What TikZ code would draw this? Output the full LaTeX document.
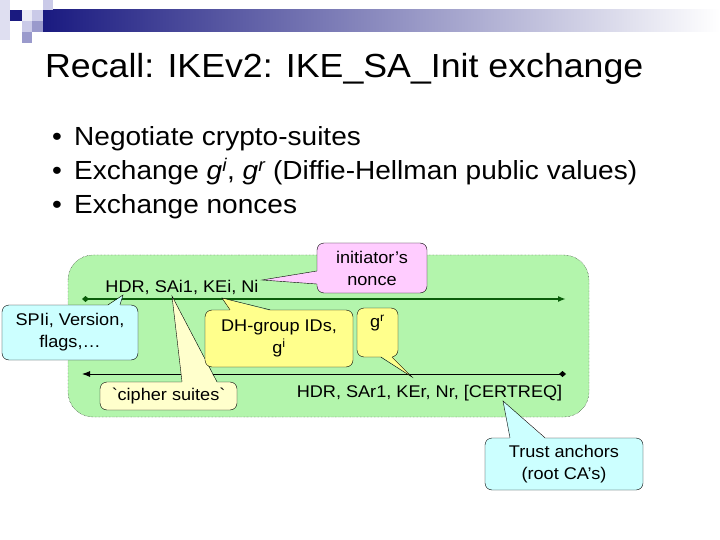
\documentclass[tikz,border=0pt]{standalone}
\usepackage{fontspec}
\setmainfont[FakeStretch=1.07]{Liberation Sans}
\usepackage{tikz}
\usetikzlibrary{arrows.meta}
\definecolor{slidenavy}{HTML}{1A1A80}
\definecolor{slidelilac}{HTML}{CACAE8}
\definecolor{slidemauve}{HTML}{9A9ACC}
\definecolor{saboxgreen}{HTML}{B3F5AC}
\definecolor{msggreen}{HTML}{0A5C0A}
\definecolor{tipcyan}{HTML}{CCFFFF}
\definecolor{tipcream}{HTML}{FFFFCC}
\definecolor{tipyellow}{HTML}{FFFF8C}
\definecolor{tippink}{HTML}{FFCCFF}

\begin{document}
\begin{tikzpicture}[
  x=1bp, y=-1bp,
  bubble/.style={draw, rounded corners=7bp, fill=#1, align=center, inner sep=0pt, font=\fontsize{17}{22}\selectfont},
  msg/.style={{Diamond[length=7bp,width=6bp]}-{Latex[length=8bp,width=6bp]}},
  msgtext/.style={anchor=base, inner sep=0pt, font=\fontsize{17}{22}\selectfont},
  bullet/.style={anchor=base west, inner sep=0pt, font=\fontsize{26.3}{30}\selectfont}
]
\useasboundingbox (0,0) rectangle (720,540);

% title bar
\shade[left color=slidenavy, right color=white] (43,10) rectangle (720,32);
\fill[slidelilac!60] (0,0) rectangle (10,40);
\fill[slidenavy] (10,10) rectangle (22,21);
\fill[slidelilac!40] (22,10) rectangle (32,21);
\fill[slidelilac] (32,10) rectangle (43,21);
\fill[slidelilac] (43,0) rectangle (53,10);
\fill[slidelilac] (22,21) rectangle (32,32);
\fill[slidemauve] (32,21) rectangle (43,32);
\fill[slidemauve] (22,32) rectangle (32,43);

\node[anchor=base west, inner sep=0pt, font=\fontsize{33.5}{40}\selectfont] (title) at (45,78) {Recall: IKEv2: IKE\_SA\_Init exchange};

\node[bullet] (b1) at (52,146) {\makebox[22bp][l]{•}Negotiate crypto-suites};
\node[bullet] (b2) at (52,180) {\makebox[22bp][l]{•}Exchange \textit{g\textsuperscript{i}}, \textit{g\textsuperscript{r}} (Diffie-Hellman public values)};
\node[bullet] (b3) at (52,214) {\makebox[22bp][l]{•}Exchange nonces};

% SA_Init exchange
\draw[fill=saboxgreen, densely dotted, rounded corners=25bp] (68,255) rectangle (589,417);

\coordinate (itail) at (82,299);
\coordinate (ihead) at (566,299);
\coordinate (rtail) at (566,374);
\coordinate (rhead) at (82,374);
\draw[msg, msggreen, line width=1.8bp] (itail) -- (ihead);
\draw[msg, line width=0.9bp] (rtail) -- (rhead);

\node[msgtext] (initmsg) at (182,292) {HDR, SAi1, KEi, Ni};
\node[msgtext] (respmsg) at (429.5,397) {HDR, SAr1, KEr, Nr, [CERTREQ]};

% callouts
\node[bubble=tipcyan, minimum width=136bp, minimum height=55bp] (spi) at (70,332.5) {SPIi, Version,\\flags,…};
\coordinate (spitip) at (123,295);
\fill[tipcyan] ([xshift=38bp,yshift=-1bp]spi.north) -- (spitip) -- ([xshift=50bp,yshift=-1bp]spi.north) -- cycle;
\draw ([xshift=38bp]spi.north) -- (spitip) -- ([xshift=50bp]spi.north);

\node[bubble=tipcream, minimum width=137bp, minimum height=28bp] (cipher) at (168.5,396) {\textasciigrave cipher suites\textasciigrave};
\coordinate (ciphertip) at (172,296);
\fill[tipcream] ([xshift=13.5bp,yshift=-1bp]cipher.north) -- (ciphertip) -- ([xshift=48.5bp,yshift=-1bp]cipher.north) -- cycle;
\draw ([xshift=13.5bp]cipher.north) -- (ciphertip) -- ([xshift=48.5bp]cipher.north);

\node[bubble=tipyellow, minimum width=148bp, minimum height=57bp] (dh) at (279,338.5) {DH-group IDs,\\g\textsuperscript{i}};
\coordinate (dhtip) at (222,298);
\fill[tipyellow] ([xshift=-49bp,yshift=-1bp]dh.north) -- (dhtip) -- ([xshift=-9bp,yshift=-1bp]dh.north) -- cycle;
\draw ([xshift=-49bp]dh.north) -- (dhtip) -- ([xshift=-9bp]dh.north);

\node[bubble=tipyellow, minimum width=41bp, minimum height=49bp] (gr) at (377.5,332.5) {g\textsuperscript{r}\\\mbox{}};
\coordinate (grtip) at (412,377);
\fill[tipyellow] ([xshift=3.5bp,yshift=1bp]gr.south) -- (grtip) -- ([xshift=14.5bp,yshift=1bp]gr.south) -- cycle;
\draw ([xshift=3.5bp]gr.south) -- (grtip) -- ([xshift=14.5bp]gr.south);

\node[bubble=tippink, minimum width=110bp, minimum height=50bp] (nonce) at (372,268) {initiator’s\\nonce};
\coordinate (noncetip) at (262,280);
\fill[tippink] ([xshift=1bp,yshift=-3bp]nonce.west) -- (noncetip) -- ([xshift=1bp,yshift=-16bp]nonce.west) -- cycle;
\draw ([yshift=-3bp]nonce.west) -- (noncetip) -- ([yshift=-16bp]nonce.west);

\node[bubble=tipcyan, minimum width=158bp, minimum height=52bp] (trust) at (564,464) {Trust anchors\\(root CA’s)};
\coordinate (trusttip) at (503,401);
\fill[tipcyan] ([xshift=-54bp,yshift=-1bp]trust.north) -- (trusttip) -- ([xshift=-19bp,yshift=-1bp]trust.north) -- cycle;
\draw ([xshift=-54bp]trust.north) -- (trusttip) -- ([xshift=-19bp]trust.north);

\end{tikzpicture}
\end{document}
